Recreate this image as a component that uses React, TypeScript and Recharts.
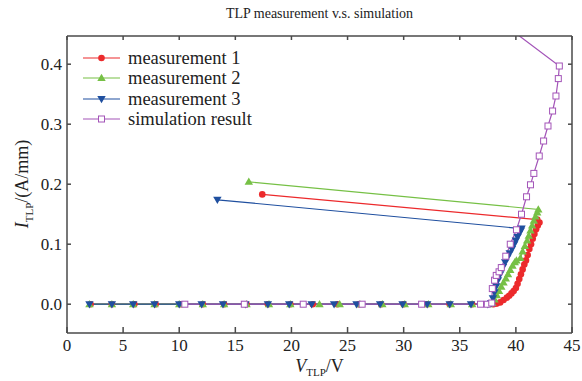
import { LineChart, Line, XAxis, YAxis, Legend } from "recharts";

const FONT = "Liberation Serif, Times New Roman, serif";

const COLORS = {
  m1: "#ec2a2c",
  m2: "#76c045",
  m3: "#1f4f9f",
  sim: "#a354b8",
  frame: "#4a4a4a",
  text: "#222",
};

const X_TICKS = [0, 5, 10, 15, 20, 25, 30, 35, 40, 45];
const Y_TICKS = [0, 0.1, 0.2, 0.3, 0.4];

// V_TLP (V), I_TLP (A/mm)
const measurement1 = [
  { v: 2.1, i: 0 }, { v: 4.0, i: 0 }, { v: 6.0, i: 0 }, { v: 7.9, i: 0 }, { v: 10.1, i: 0 },
  { v: 12.1, i: 0 }, { v: 14.0, i: 0 }, { v: 16.0, i: 0 }, { v: 17.9, i: 0 }, { v: 19.9, i: 0 },
  { v: 21.9, i: 0 }, { v: 24.1, i: 0 }, { v: 26.0, i: 0 }, { v: 28.0, i: 0 }, { v: 30.0, i: 0 },
  { v: 32.1, i: 0 }, { v: 34.1, i: 0 }, { v: 36.1, i: 0 }, { v: 38.0, i: 0 }, { v: 38.3, i: 0.001 },
  { v: 38.6, i: 0.003 }, { v: 38.9, i: 0.007 }, { v: 39.2, i: 0.011 }, { v: 39.4, i: 0.014 },
  { v: 39.6, i: 0.018 }, { v: 39.8, i: 0.022 }, { v: 40.0, i: 0.027 }, { v: 40.15, i: 0.034 },
  { v: 40.3, i: 0.042 }, { v: 40.45, i: 0.05 }, { v: 40.6, i: 0.058 }, { v: 40.75, i: 0.066 },
  { v: 40.9, i: 0.073 }, { v: 41.05, i: 0.082 }, { v: 41.2, i: 0.092 }, { v: 41.35, i: 0.1 },
  { v: 41.5, i: 0.109 }, { v: 41.65, i: 0.117 }, { v: 41.8, i: 0.125 }, { v: 41.95, i: 0.131 },
  { v: 42.1, i: 0.136 }, { v: 41.9, i: 0.141 }, { v: 17.4, i: 0.183 },
];

const measurement2 = [
  { v: 2.0, i: 0 }, { v: 4.0, i: 0 }, { v: 5.9, i: 0 }, { v: 7.8, i: 0 }, { v: 10.0, i: 0 },
  { v: 12.1, i: 0 }, { v: 14.0, i: 0 }, { v: 16.0, i: 0 }, { v: 18.0, i: 0 }, { v: 19.9, i: 0 },
  { v: 22.5, i: 0 }, { v: 24.3, i: 0 }, { v: 26.1, i: 0 }, { v: 28.1, i: 0 }, { v: 30.1, i: 0 },
  { v: 32.2, i: 0 }, { v: 34.2, i: 0 }, { v: 36.1, i: 0 }, { v: 37.6, i: 0 }, { v: 37.9, i: 0.002 },
  { v: 38.1, i: 0.008 }, { v: 38.3, i: 0.015 }, { v: 38.5, i: 0.022 }, { v: 38.7, i: 0.029 },
  { v: 38.9, i: 0.036 }, { v: 39.1, i: 0.043 }, { v: 39.3, i: 0.05 }, { v: 39.5, i: 0.057 },
  { v: 39.7, i: 0.064 }, { v: 39.9, i: 0.07 }, { v: 40.05, i: 0.073 }, { v: 40.4, i: 0.077 },
  { v: 40.6, i: 0.088 }, { v: 40.8, i: 0.097 }, { v: 41.0, i: 0.106 }, { v: 41.15, i: 0.114 },
  { v: 41.3, i: 0.123 }, { v: 41.45, i: 0.131 }, { v: 41.6, i: 0.139 }, { v: 41.75, i: 0.146 },
  { v: 41.9, i: 0.153 }, { v: 42.0, i: 0.158 }, { v: 16.2, i: 0.204 },
];

const measurement3 = [
  { v: 2.0, i: 0 }, { v: 4.0, i: 0 }, { v: 5.9, i: 0 }, { v: 7.8, i: 0 }, { v: 10.0, i: 0 },
  { v: 12.0, i: 0 }, { v: 13.9, i: 0 }, { v: 15.9, i: 0 }, { v: 17.9, i: 0 }, { v: 19.8, i: 0 },
  { v: 21.8, i: 0 }, { v: 23.8, i: 0 }, { v: 25.8, i: 0 }, { v: 27.9, i: 0 }, { v: 29.9, i: 0 },
  { v: 32.1, i: 0 }, { v: 34.1, i: 0 }, { v: 36.0, i: 0 }, { v: 37.5, i: 0 }, { v: 37.8, i: 0.002 },
  { v: 37.95, i: 0.01 }, { v: 38.1, i: 0.02 }, { v: 38.25, i: 0.03 }, { v: 38.4, i: 0.04 },
  { v: 38.6, i: 0.05 }, { v: 38.85, i: 0.062 }, { v: 39.05, i: 0.07 }, { v: 39.25, i: 0.078 },
  { v: 39.45, i: 0.085 }, { v: 39.65, i: 0.092 }, { v: 39.85, i: 0.1 }, { v: 40.0, i: 0.106 },
  { v: 40.15, i: 0.112 }, { v: 40.3, i: 0.118 }, { v: 40.45, i: 0.123 }, { v: 40.5, i: 0.126 },
  { v: 13.4, i: 0.174 },
];

const simulation = [
  { v: 10.5, i: 0 }, { v: 15.8, i: 0 }, { v: 21.05, i: 0 }, { v: 26.3, i: 0 }, { v: 31.6, i: 0 },
  { v: 36.85, i: 0 }, { v: 37.45, i: 0 }, { v: 37.85, i: 0.002 }, { v: 37.9, i: 0.026 },
  { v: 38.1, i: 0.04 }, { v: 38.25, i: 0.048 }, { v: 38.5, i: 0.054 }, { v: 38.7, i: 0.061 },
  { v: 39.1, i: 0.08 }, { v: 39.5, i: 0.1 }, { v: 40.05, i: 0.124 }, { v: 40.5, i: 0.15 },
  { v: 40.95, i: 0.179 }, { v: 41.3, i: 0.199 }, { v: 41.6, i: 0.218 }, { v: 42.08, i: 0.247 },
  { v: 42.47, i: 0.272 }, { v: 42.86, i: 0.297 }, { v: 43.27, i: 0.322 }, { v: 43.57, i: 0.347 },
  { v: 43.78, i: 0.376 }, { v: 43.87, i: 0.397 }, { v: 30.0, i: 0.592 },
];

const SERIES = [
  { key: "m1", name: "measurement 1", data: measurement1, color: COLORS.m1, shape: "circle" },
  { key: "m2", name: "measurement 2", data: measurement2, color: COLORS.m2, shape: "up" },
  { key: "m3", name: "measurement 3", data: measurement3, color: COLORS.m3, shape: "down" },
  { key: "sim", name: "simulation result", data: simulation, color: COLORS.sim, shape: "square" },
];

function Marker({ shape, color, x, y }: { shape: string; color: string; x: number; y: number }) {
  if (shape === "circle") return <circle cx={x} cy={y} r={3.3} fill={color} />;
  if (shape === "up")
    return <polygon points={`${x},${y - 4.2} ${x - 4.2},${y + 3} ${x + 4.2},${y + 3}`} fill={color} />;
  if (shape === "down")
    return <polygon points={`${x - 4.2},${y - 3} ${x + 4.2},${y - 3} ${x},${y + 4.2}`} fill={color} />;
  return <rect x={x - 3} y={y - 3} width={6} height={6} fill="#fff" stroke={color} strokeWidth={1} />;
}

const makeDot = (shape: string, color: string) => (props: any) => {
  const { cx, cy, index } = props;
  if (cx == null || cy == null) return <g key={index} />;
  return (
    <g key={index}>
      <Marker shape={shape} color={color} x={cx} y={cy} />
    </g>
  );
};

function LegendBox() {
  return (
    <div style={{ fontFamily: FONT, fontSize: 18.5, color: COLORS.text, lineHeight: "20.3px" }}>
      {SERIES.map((s) => (
        <div key={s.key} style={{ display: "flex", alignItems: "center", height: 20.3 }}>
          <svg width={40} height={14} style={{ marginRight: 6 }}>
            <line x1={1} y1={7} x2={38} y2={7} stroke={s.color} strokeWidth={1.2} />
            <Marker shape={s.shape} color={s.color} x={19.5} y={7} />
          </svg>
          <span>{s.name}</span>
        </div>
      ))}
    </div>
  );
}

const noLabel = () => <g />;

const tickStyle = { fill: COLORS.text, fontSize: 17, fontFamily: FONT };

export default function App() {
  return (
    <div
      style={{
        position: "absolute",
        left: 0,
        top: 0,
        width: 582,
        height: 381,
        background: "#fff",
        fontFamily: FONT,
      }}
    >
      <div
        style={{
          position: "absolute",
          left: 67,
          width: 505,
          top: 6,
          textAlign: "center",
          fontSize: 14,
          color: COLORS.text,
        }}
      >
        TLP measurement v.s. simulation
      </div>
      <LineChart
        width={582}
        height={381}
        margin={{ top: 35, right: 9, bottom: 18, left: 17 }}
        style={{ fontFamily: FONT }}
      >
        <XAxis
          xAxisId="bottom"
          type="number"
          dataKey="v"
          domain={[0, 45]}
          ticks={X_TICKS}
          interval={0}
          allowDataOverflow
          height={30}
          tickSize={-6}
          tickMargin={12}
          stroke={COLORS.frame}
          strokeWidth={1.5}
          tick={tickStyle}
        />
        <XAxis
          xAxisId="top"
          orientation="top"
          type="number"
          dataKey="v"
          domain={[0, 45]}
          ticks={X_TICKS}
          interval={0}
          allowDataOverflow
          height={1}
          tickSize={-4}
          stroke={COLORS.frame}
          strokeWidth={1.5}
          tick={noLabel}
        />
        <YAxis
          yAxisId="left"
          type="number"
          domain={[-0.048, 0.447]}
          ticks={Y_TICKS}
          interval={0}
          allowDataOverflow
          width={50}
          tickSize={-4}
          tickMargin={9}
          stroke={COLORS.frame}
          strokeWidth={1.5}
          tickFormatter={(v: number) => v.toFixed(1)}
          tick={tickStyle}
        />
        <YAxis
          yAxisId="right"
          orientation="right"
          type="number"
          domain={[-0.048, 0.447]}
          ticks={Y_TICKS}
          interval={0}
          allowDataOverflow
          width={1}
          tickSize={-4}
          stroke={COLORS.frame}
          strokeWidth={1.5}
          tick={noLabel}
        />
        <Legend
          layout="vertical"
          align="center"
          verticalAlign="middle"
          wrapperStyle={{ left: 82, top: 48, width: 230 }}
          content={() => <LegendBox />}
        />
        {SERIES.map((s) => (
          <Line
            key={s.key}
            xAxisId="bottom"
            yAxisId="left"
            data={s.data}
            dataKey="i"
            name={s.name}
            type="linear"
            stroke={s.color}
            strokeWidth={1.2}
            dot={makeDot(s.shape, s.color)}
            activeDot={false}
            isAnimationActive={false}
          />
        ))}
      </LineChart>
      <div
        style={{
          position: "absolute",
          left: 67,
          width: 505,
          top: 356,
          lineHeight: "20px",
          textAlign: "center",
          fontSize: 18,
          color: COLORS.text,
        }}
      >
        <i>V</i>
        <span style={{ fontSize: 11, position: "relative", top: 4 }}>TLP</span>/V
      </div>
      <div
        style={{
          position: "absolute",
          left: 22,
          top: 184,
          transform: "translate(-50%, -50%) rotate(-90deg)",
          whiteSpace: "nowrap",
          fontSize: 18,
          color: COLORS.text,
        }}
      >
        <i>I</i>
        <span style={{ fontSize: 11, position: "relative", top: 5 }}>TLP</span>/(A/mm)
      </div>
    </div>
  );
}
